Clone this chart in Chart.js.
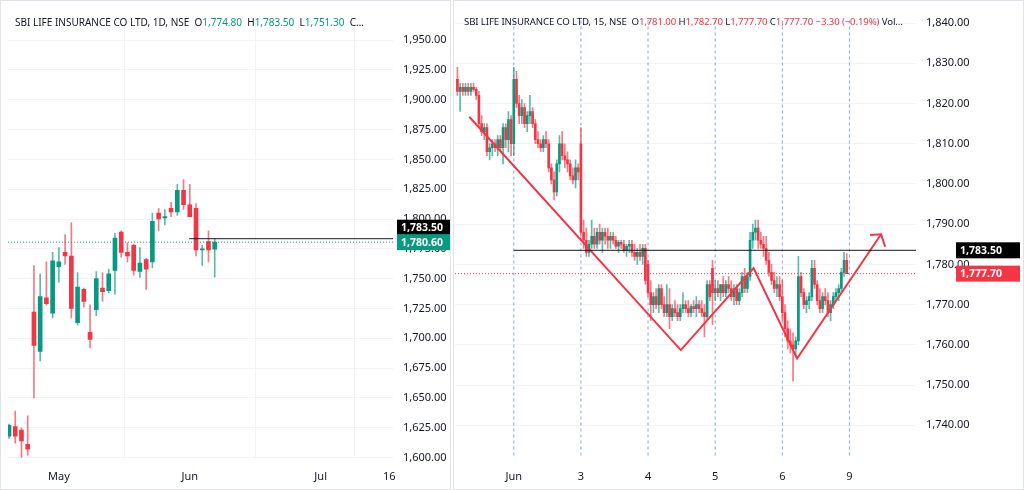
<!DOCTYPE html>
<html>
<head>
<meta charset="utf-8">
<script src="https://cdn.jsdelivr.net/npm/chart.js@4"></script>
<style>
  body { margin: 0; background: #fff; font-family: "Noto Sans", sans-serif; }
  .panel { position: absolute; top: 0; height: 490px; box-sizing: border-box; border: 1px solid #e0e3eb; }
  #leftWrap { left: 0; width: 451px; }
  #rightWrap { left: 453px; width: 571px; }
  .head { position: absolute; top: 14px; font-size: 10px; color: #131722; white-space: nowrap; }
  #rightWrap .head { font-size: 9.6px; letter-spacing: -0.1px; }
  .g { color: #089981; } .r { color: #f23645; }
</style>
</head>
<body>
<div class="panel" id="leftWrap"><canvas id="dailyChart" width="449" height="488"></canvas>
  <div class="head" style="left:14px">SBI LIFE INSURANCE CO LTD, 1D, NSE&nbsp; O<span class="g">1,774.80</span>&nbsp; H<span class="g">1,783.50</span>&nbsp; L<span class="g">1,751.30</span>&nbsp; C…</div>
</div>
<div class="panel" id="rightWrap"><canvas id="intraChart" width="569" height="488"></canvas>
  <div class="head" style="left:10px">SBI LIFE INSURANCE CO LTD, 15, NSE&nbsp; O<span class="r">1,781.00</span> H<span class="r">1,782.70</span> L<span class="r">1,777.70</span> C<span class="r">1,777.70</span> <span class="r">−3.30 (−0.19%)</span> Vol…</div>
</div>
<script>
/* Two candlestick panels drawn with floating bars */

const UP = '#089981';
const DOWN = '#f23645';

// Daily candles [open, high, low, close]
const daily = [
  [1618,1628,1616,1627],[1626,1639,1612,1618],[1623,1625,1600,1614],[1611,1635,1602,1607],
  [1722,1761,1650,1694],[1689,1754,1681,1735],[1734,1764,1728,1729],[1721,1772,1717,1765],
  [1760,1776,1747,1764],[1772,1787,1762,1769],[1769,1797,1717,1725],[1713,1755,1711,1743],
  [1741,1742,1726,1731],[1705,1728,1692,1699],[1724,1756,1719,1750],[1742,1755,1731,1739],
  [1740,1758,1738,1754],[1757,1788,1737,1784],[1789,1790,1768,1772],[1772,1780,1764,1769],
  [1778,1779,1753,1757],[1756,1776,1751,1763],[1766,1767,1741,1758],[1764,1805,1759,1798],
  [1805,1809,1790,1800],[1801,1808,1795,1802],[1809,1814,1802,1806],[1806,1829,1803,1824],
  [1824,1833,1808,1812],[1812,1829,1802,1802],[1809,1813,1769,1774],[1774,1778,1761,1775],
  [1781,1790,1764,1774],[1774.8,1783.5,1751.3,1780.6]
];
const dailyTickPos = [8, 29, 50, 61];
const dailyTickLabels = ['May', 'Jun', 'Jul', '16'];

// 15-minute candles [open, high, low, close], May 30 tail to Jun 9
const intraday = [
  [1826,1829,1822,1823],[1823,1825,1818,1824],[1824,1825,1822,1823],[1823,1825,1822,1824],
  [1824,1825,1822,1823],[1823,1825,1822,1824],[1824,1825,1823,1823.5],[1823.5,1824,1821,1822],
  [1822,1823,1814,1815],[1815,1817,1812,1813],[1813,1815,1811,1814],[1814,1815,1807,1808],
  [1808,1810,1806,1809],[1809,1811,1807,1810],[1810,1811,1808,1809],[1809,1812,1807,1811],
  [1811,1812,1808,1809],[1809,1815,1805,1814],[1814,1815,1809,1811],[1811,1818,1808,1816],
  [1816,1817,1807,1810],
  // Jun 2
  [1810,1829,1807,1826],[1826,1828,1819,1820],[1820,1822,1815,1817],[1817,1821,1815,1819],
  [1819,1820,1814,1815],[1815,1818,1813,1817],[1817,1822,1815,1818],[1818,1819,1814,1815],
  [1815,1816,1810,1811],[1811,1813,1809,1810],[1810,1811,1808,1809],[1809,1812,1808,1811],
  [1811,1813,1809,1810],[1810,1811,1803,1804],[1804,1805,1800,1801],[1801,1803,1796,1798],
  [1798,1806,1797,1805],[1805,1812,1803,1810],[1810,1813,1806,1807],[1807,1810,1804,1806],
  [1806,1808,1803,1805],[1805,1806,1801,1802],[1802,1804,1800,1801],[1801,1806,1799,1804],
  [1804,1805,1801,1803],
  // Jun 3
  [1810,1814,1787,1788],[1788,1791,1784,1786],[1786,1789,1782,1783],[1783,1786,1782,1785],
  [1785,1791,1784,1787],[1787,1789,1784,1785],[1785,1789,1784,1788],[1788,1790,1785,1786],
  [1786,1789,1783,1788],[1788,1789,1785,1787],[1787,1789,1784,1786],[1786,1788,1784,1787],
  [1787,1788,1785,1786],[1786,1787,1784,1784.5],[1784.5,1786,1783,1785.5],[1785.5,1786,1784,1785],
  [1785,1786,1783,1783.5],[1783.5,1785,1782,1784.5],[1784.5,1786,1783,1785],[1785,1786,1782,1783],
  [1783,1785,1781,1782],[1782,1784,1780,1783],[1783,1785,1781,1782],[1782,1785,1780,1784],
  [1784,1785,1775,1776],
  // Jun 4
  [1780,1781,1772,1773],[1773,1776,1766,1770],[1770,1773,1768,1772],[1772,1774,1769,1770],
  [1770,1775,1768,1774],[1774,1775,1769,1770],[1770,1772,1767,1768],[1768,1775,1767,1770],
  [1770,1774,1764,1767],[1767,1770,1766,1769],[1769,1771,1767,1768],[1768,1770,1766,1767],
  [1767,1770,1766,1769],[1769,1773,1768,1770],[1770,1771,1768,1769],[1769,1771,1767,1768],
  [1768,1770,1767,1769.5],[1769.5,1771,1768,1769],[1769,1772,1767,1770],[1770,1771,1768,1769],
  [1769,1771,1767,1768],[1768,1770,1762,1767],[1767,1776,1766,1775],[1775,1776,1771,1772],
  [1779,1781,1765,1773],
  // Jun 5
  [1773,1776,1771,1774],[1774,1776,1772,1773],[1773,1775,1771,1775],[1775,1777,1772,1773],
  [1773,1776,1772,1775],[1775,1777,1773,1774],[1774,1776,1771,1772],[1772,1775,1770,1774],
  [1774,1775,1770,1771],[1771,1774,1770,1773],[1773,1778,1772,1777],[1777,1779,1773,1774],
  [1774,1778,1773,1777],[1777,1788,1776,1786],[1786,1790,1784,1788],[1788,1791,1786,1789],
  [1789,1791,1784,1786],[1786,1788,1784,1785],[1785,1787,1782,1784],[1784,1787,1780,1781],
  [1781,1783,1777,1778],[1778,1780,1775,1776],[1776,1778,1773,1774],[1774,1777,1772,1775],
  [1775,1777,1771,1772],
  // Jun 6
  [1772,1776,1766,1768],[1768,1770,1762,1764],[1764,1766,1759,1761],[1761,1764,1758,1760],
  [1760,1763,1751,1759],[1759,1762,1757,1761],[1761,1782,1760,1777],[1777,1778,1772,1773],
  [1773,1774,1769,1770],[1770,1772,1768,1771],[1771,1773,1769,1772],[1772,1781,1771,1779],
  [1779,1781,1774,1775],[1775,1776,1770,1771],[1771,1774,1768,1769],[1769,1773,1768,1772],
  [1772,1774,1770,1771],[1771,1773,1767,1768],[1768,1771,1766,1770],[1770,1773,1769,1772],
  [1772,1774,1771,1773],[1773,1775,1771,1774],[1774,1779,1773,1778],[1778,1783,1777,1781],
  [1781,1782.7,1777.7,1777.7]
];
const intraTickPos = [21, 46, 71, 96, 121, 146];
const intraTickLabels = ['Jun', '3', '4', '5', '6', '9'];

// Hand-drawn pattern on the 15-minute chart [candle index, price]
const patternLine = [[4.4, 1816.7], [83.2, 1758.7], [110.3, 1779.1], [126.5, 1756.6], [157.8, 1787.5]];
const arrowHead = [[153.7, 1787.3], [157.8, 1787.5], [159.3, 1784.4]];

const fmt = v => v.toLocaleString('en-US', { minimumFractionDigits: 2, maximumFractionDigits: 2 });

// price boxes on the right axis
const tagPlugin = {
  id: 'tags',
  afterDraw(chart, args, opts) {
    const ctx = chart.ctx, y = chart.scales.y;
    (opts.items || []).forEach(t => {
      const py = y.getPixelForValue(t.value) + (t.dy || 0);
      ctx.fillStyle = t.bg;
      ctx.fillRect(chart.chartArea.right + opts.pad, py - 8, opts.w, 16);
      ctx.fillStyle = '#fff';
      ctx.font = 'bold 10.5px "Noto Sans"';
      ctx.textBaseline = 'middle';
      ctx.fillText(t.text, chart.chartArea.right + opts.pad + 4, py + 0.5);
    });
  }
};

function candleSets(rows, bodyW) {
  const color = rows.map(r => r[3] >= r[0] ? UP : DOWN);
  return [
    { data: rows.map((r, i) => ({ x: i, y: [r[2], r[1]] })), backgroundColor: color.map(c => c + 'aa'),
      barThickness: 1, order: 2 },
    { data: rows.map((r, i) => ({ x: i, y: [r[0], r[3]] })), backgroundColor: color,
      barThickness: bodyW, minBarLength: 1, order: 1 }
  ];
}

function hLine(x0, x1, v, color, dash, w) {
  return { type: 'line', data: [{ x: x0, y: v }, { x: x1, y: v }], borderColor: color, borderDash: dash,
    borderWidth: w || 1, pointRadius: 0, order: 0 };
}

function makeChart(id, rows, cfg) {
  const tickStyle = { color: '#131722', font: { size: 11, family: 'Noto Sans' } };
  return new Chart(document.getElementById(id), {
    type: 'bar',
    data: { datasets: candleSets(rows, cfg.bodyW).concat(cfg.extra) },
    options: {
      responsive: false, animation: false, events: [],
      layout: { padding: { left: cfg.padLeft, top: 3, right: 0, bottom: 0 } },
      datasets: { bar: { grouped: false } },
      plugins: { legend: { display: false }, tooltip: { enabled: false }, tags: cfg.tags },
      scales: {
        x: {
          type: 'linear', min: cfg.xMin, max: cfg.xMax, offset: false,
          grid: { display: cfg.xGrid, color: '#f0f3fa', drawTicks: false },
          border: { display: false },
          afterBuildTicks: s => { s.ticks = cfg.tickPos.map(v => ({ value: v })); },
          ticks: Object.assign({ autoSkip: false, maxRotation: 0, padding: 12,
            callback: v => cfg.tickLabels[cfg.tickPos.indexOf(v)] }, tickStyle),
          afterFit: s => { s.height = cfg.xAxisH; }
        },
        y: {
          position: 'right', min: cfg.yMin, max: cfg.yMax,
          grid: { color: '#f0f3fa', drawTicks: false },
          border: { display: false },
          afterBuildTicks: s => {
            const t = [];
            for (let v = Math.ceil(cfg.yMin / cfg.step) * cfg.step; v <= cfg.yMax; v += cfg.step) t.push({ value: v });
            s.ticks = t;
          },
          ticks: Object.assign({ autoSkip: false, padding: 10, callback: v => fmt(v) }, tickStyle),
          afterFit: s => { s.width = cfg.yAxisW; }
        }
      }
    },
    plugins: [tagPlugin]
  });
}

makeChart('dailyChart', daily, {
  bodyW: 4, padLeft: 7, xMin: -0.16, xMax: 61.6, yMin: 1599.6, yMax: 1968.9, step: 25,
  xGrid: true, xAxisH: 31, yAxisW: 57, tickPos: dailyTickPos, tickLabels: dailyTickLabels,
  extra: [
    hLine(28.9, 61.6, 1783.5, '#131722', [], 1),
    hLine(-0.16, 61.6, 1780.6, UP, [1, 2], 1)
  ],
  tags: { pad: 4, w: 54, items: [
    { value: 1783.5, text: '1,783.50', bg: '#000', dy: -11 },
    { value: 1780.6, text: '1,780.60', bg: UP }
  ] }
});

const dayLines = intraTickPos.map(p => ({ type: 'line', data: [{ x: p, y: 1731 }, { x: p, y: 1845 }],
  borderColor: '#7fa9e6', borderDash: [3, 3], borderWidth: 1, pointRadius: 0, order: 3 }));

makeChart('intraChart', intraday, {
  bodyW: 2, padLeft: 1, xMin: -0.9, xMax: 170.8, yMin: 1731.87, yMax: 1841.35, step: 10,
  xGrid: false, xAxisH: 31, yAxisW: 107, tickPos: intraTickPos, tickLabels: intraTickLabels,
  extra: dayLines.concat([
    hLine(21, 170.8, 1783.5, '#131722', [], 1),
    hLine(-0.9, 170.8, 1777.7, DOWN, [1, 2], 1),
    { type: 'line', data: patternLine.map(p => ({ x: p[0], y: p[1] })), borderColor: DOWN,
      borderWidth: 2, pointRadius: 0, tension: 0, order: 0 },
    { type: 'line', data: arrowHead.map(p => ({ x: p[0], y: p[1] })), borderColor: DOWN,
      borderWidth: 2, pointRadius: 0, tension: 0, order: 0 }
  ]),
  tags: { pad: 40, w: 64, items: [
    { value: 1783.5, text: '1,783.50', bg: '#000' },
    { value: 1777.7, text: '1,777.70', bg: DOWN }
  ] }
});
</script>
</body>
</html>
